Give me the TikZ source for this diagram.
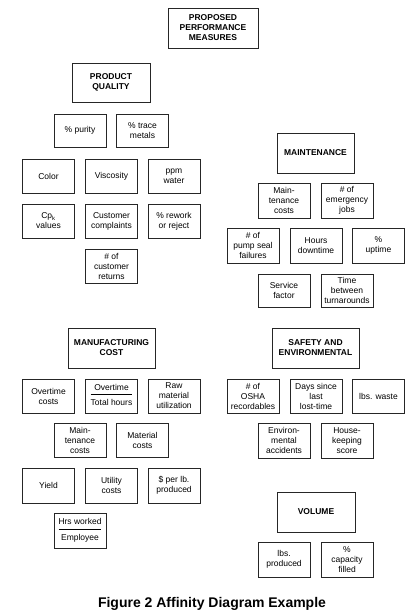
\documentclass[tikz,border=0pt]{standalone}
\usepackage{fontspec}
\setmainfont{Liberation Sans}
\begin{document}
\begin{tikzpicture}[x=1pt,y=1pt,
  every node/.style={inner sep=0pt,outer sep=0pt},
  box/.style={draw=black!85,line width=0.9pt,align=center,
    font=\fontsize{8.5}{10}\selectfont,minimum width=52pt,minimum height=34pt},
  head/.style={box,font=\bfseries\fontsize{8.5}{10}\selectfont,minimum height=40pt},
  captext/.style={font=\bfseries\fontsize{14}{16}\selectfont,anchor=base}]
\useasboundingbox (0,0) rectangle (418,-614);
% top
\node[head,minimum width=90pt] (top) at (213,-28) {PROPOSED\\PERFORMANCE\\MEASURES};
% product quality
\node[head,minimum width=78pt,minimum height=39pt] (pq) at (111,-82.5) {PRODUCT\\QUALITY};
\node[box,minimum height=33pt] (purity) at (80,-130.5) {\% purity};
\node[box,minimum height=33pt] (trace) at (142.5,-130.5) {\% trace\\metals};
\node[box] (color) at (48.5,-176) {Color};
\node[box] (visc) at (111.5,-176) {Viscosity};
\node[box] (ppm) at (174,-176) {ppm\\water};
\node[box] (cpk) at (48.5,-221) {Cp\textsubscript{k}\\values};
\node[box] (compl) at (111.5,-221) {Customer\\complaints};
\node[box] (rework) at (174,-221) {\% rework\\or reject};
\node[box] (returns) at (111.5,-266) {\# of\\customer\\returns};
% maintenance
\node[head,minimum width=77pt] (maint) at (315.5,-153) {MAINTENANCE};
\node[box,minimum height=35pt] (mcost) at (284,-200.5) {Main-\\tenance\\costs};
\node[box,minimum height=35pt] (emerg) at (347,-200.5) {\# of\\emergency\\jobs};
\node[box,minimum height=35pt] (pump) at (253,-245.5) {\# of\\pump seal\\failures};
\node[box,minimum height=35pt] (down) at (316,-245.5) {Hours\\downtime};
\node[box,minimum height=35pt] (uptime) at (378.5,-245.5) {\%\\uptime};
\node[box,minimum height=33pt] (service) at (284,-290.5) {Service\\factor};
\node[box,minimum height=33pt] (turn) at (347,-290.5) {Time\\between\\turnarounds};
% manufacturing cost
\node[head,minimum width=87pt] (mfg) at (111.5,-348) {MANUFACTURING\\COST};
\node[box] (otc) at (48.5,-396) {Overtime\\costs};
\node[box] (otth) at (111.5,-396) {\begin{tabular}{@{}c@{}}Overtime\\[1pt]\hline\rule{0pt}{11pt}Total hours\end{tabular}};
\node[box] (raw) at (174,-396) {Raw\\material\\utilization};
\node[box] (mcost2) at (80,-440) {Main-\\tenance\\costs};
\node[box] (matc) at (142.5,-440) {Material\\costs};
\node[box,minimum height=35pt] (yield) at (48.5,-485.5) {Yield};
\node[box,minimum height=35pt] (util) at (111.5,-485.5) {Utility\\costs};
\node[box,minimum height=35pt] (perlb) at (174,-485.5) {\$ per lb.\\produced};
\node[box,minimum height=35pt] (hrs) at (80,-530.5) {\begin{tabular}{@{}c@{}}Hrs worked\\[1pt]\hline\rule{0pt}{11pt}Employee\end{tabular}};
% safety
\node[head,minimum width=87pt] (safe) at (315.5,-348) {SAFETY AND\\ENVIRONMENTAL};
\node[box] (osha) at (253,-396) {\# of\\OSHA\\recordables};
\node[box] (days) at (316,-396) {Days since\\last\\lost-time};
\node[box] (waste) at (378.5,-396) {lbs. waste};
\node[box,minimum height=35pt] (env) at (284,-440.5) {Environ-\\mental\\accidents};
\node[box,minimum height=35pt] (house) at (347,-440.5) {House-\\keeping\\score};
% volume
\node[head,minimum width=78pt] (vol) at (316,-512) {VOLUME};
\node[box,minimum height=35pt] (lbsp) at (284,-559.5) {lbs.\\produced};
\node[box,minimum height=35pt] (capf) at (347,-559.5) {\%\\capacity\\filled};
% caption
\node[captext] (caption) at (212,-607) {Figure 2 Affinity Diagram Example};
\end{tikzpicture}
\end{document}
